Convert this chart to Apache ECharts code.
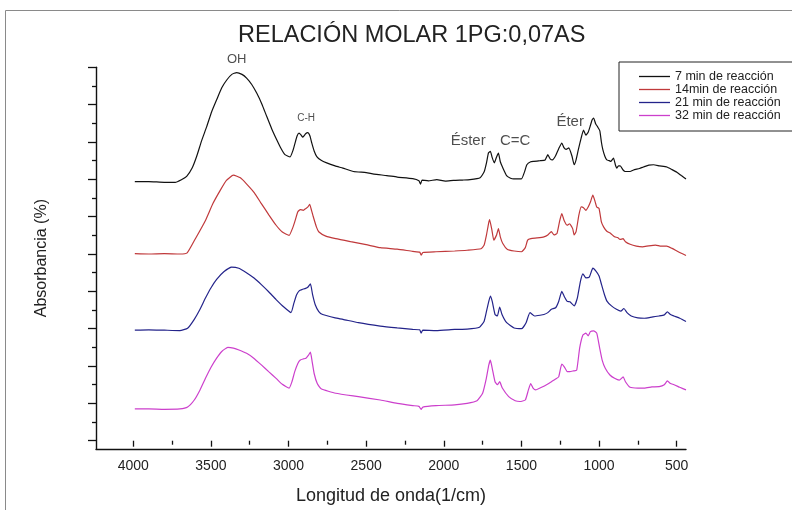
<!DOCTYPE html>
<html>
<head>
<meta charset="utf-8">
<script src="https://cdn.jsdelivr.net/npm/echarts@6/dist/echarts.min.js"></script>
<style>
  html, body { margin: 0; padding: 0; background: #fff; }
  #chart { width: 792px; height: 510px; }
</style>
</head>
<body>
<div id="chart"></div>
<script>
// FTIR spectra, [wavenumber (1/cm), absorbance (% of plot scale)]
const seriesNames = ['7 min de reacción', '14min de reacción', '21 min de reacción', '32 min de reacción'];
const seriesColors = ['#111111', '#c0393b', '#23238a', '#cc3fcc'];

const spec7 = [
  [3990,69.4],[3900,69.4],[3800,69.2],[3730,69.2],[3690,69.9],[3656,70.8],[3620,73.1],[3592,76.1],[3560,80.3],
  [3527,84.1],[3495,88.1],[3463,91.3],[3430,94.5],[3398,96.6],[3365,98.1],[3334,98.6],[3300,98.1],[3270,97.1],
  [3237,95.4],[3205,93.1],[3172,90.2],[3140,86.8],[3108,83.5],[3076,80.6],[3050,78.4],[3023,76.6],[2990,76.0],
  [2970,77.9],[2958,79.7],[2945,81.6],[2932,82.4],[2920,81.9],[2908,81.3],[2890,82.2],[2876,82.5],[2862,81.6],
  [2850,79.7],[2835,77.6],[2818,76.1],[2790,75.1],[2754,74.4],[2700,73.6],[2650,73.0],[2582,72.1],[2500,71.8],
  [2450,71.4],[2367,71.0],[2300,70.6],[2200,70.2],[2160,69.6],[2150,68.7],[2140,69.8],[2100,69.6],[2045,69.9],
  [1990,69.5],[1938,69.7],[1880,69.8],[1831,69.9],[1766,70.4],[1740,72.0],[1725,74.4],[1712,77.1],[1700,77.5],
  [1688,75.8],[1675,74.4],[1660,76.0],[1648,77.0],[1636,74.7],[1620,73.1],[1594,70.9],[1570,70.3],[1551,70.1],
  [1500,70.1],[1480,72.0],[1465,73.9],[1440,74.7],[1420,74.8],[1380,75.0],[1347,75.2],[1330,76.6],[1315,75.5],
  [1300,75.2],[1280,76.3],[1260,78.2],[1240,79.7],[1225,78.4],[1212,78.0],[1195,78.4],[1175,76.3],[1160,73.9],
  [1148,75.2],[1133,78.0],[1115,81.1],[1100,83.2],[1085,81.8],[1070,82.6],[1058,84.1],[1045,85.9],[1035,86.4],
  [1022,84.9],[1010,84.1],[995,83.0],[985,80.0],[976,78.0],[962,76.1],[950,75.2],[935,75.0],[924,74.8],
  [907,75.7],[895,73.9],[886,73.0],[875,73.6],[864,73.6],[845,72.5],[832,72.1],[800,72.1],[778,72.5],
  [740,72.9],[714,73.3],[680,73.8],[649,73.9],[610,73.6],[563,73.3],[530,72.6],[499,71.9],[470,71.0],[440,70.1]
];

const spec14 = [
  [3990,50.1],[3900,50.0],[3800,50.1],[3700,50.0],[3653,50.3],[3600,54.1],[3535,59.0],[3487,63.5],[3439,67.1],
  [3400,69.7],[3355,71.1],[3310,70.4],[3271,68.8],[3220,66.4],[3175,63.5],[3127,60.5],[3080,57.7],[3040,55.9],
  [2996,55.0],[2975,56.8],[2960,58.6],[2940,61.3],[2924,61.9],[2905,61.7],[2888,62.2],[2875,62.6],[2864,63.3],
  [2852,61.7],[2840,59.9],[2820,57.2],[2804,55.9],[2760,54.8],[2696,54.1],[2600,53.3],[2500,52.5],[2409,51.7],
  [2300,51.3],[2200,50.7],[2155,50.5],[2146,49.7],[2135,50.4],[2050,50.6],[1930,50.8],[1850,51.0],[1760,51.4],
  [1740,52.4],[1725,55.1],[1712,58.1],[1705,59.2],[1690,56.4],[1678,53.7],[1660,55.1],[1648,56.8],[1636,54.6],
  [1620,52.8],[1590,51.2],[1547,50.8],[1500,50.6],[1475,51.7],[1460,53.7],[1439,54.1],[1400,54.3],[1355,54.6],
  [1330,55.1],[1307,56.0],[1290,55.1],[1271,55.5],[1255,58.6],[1240,60.8],[1225,59.0],[1205,57.7],[1190,58.1],
  [1170,56.8],[1160,55.1],[1148,56.0],[1130,60.4],[1115,62.6],[1100,62.4],[1085,61.7],[1070,62.6],[1055,64.0],
  [1040,65.8],[1028,64.4],[1015,62.6],[1000,62.2],[985,58.6],[970,57.2],[950,56.1],[925,55.5],[900,54.6],
  [880,54.4],[865,53.9],[845,54.1],[830,53.3],[800,52.6],[760,52.1],[720,51.9],[680,52.2],[636,52.4],
  [600,52.1],[564,52.1],[530,51.5],[490,50.6],[440,49.6]
];

const spec21 = [
  [3990,29.6],[3900,29.7],[3800,29.6],[3700,29.5],[3650,30.1],[3607,32.5],[3570,35.2],[3535,38.2],[3500,40.9],
  [3463,43.2],[3415,45.3],[3367,46.5],[3320,46.2],[3271,45.0],[3220,43.5],[3175,41.8],[3128,39.9],[3080,37.8],
  [3030,35.8],[2984,34.3],[2965,36.9],[2948,39.1],[2930,40.2],[2912,40.5],[2890,40.8],[2876,41.1],[2859,42.0],
  [2845,39.1],[2828,36.4],[2805,34.6],[2780,33.8],[2700,32.9],[2649,32.5],[2550,31.6],[2409,30.7],[2300,30.2],
  [2200,29.8],[2155,29.7],[2146,28.8],[2135,29.6],[2050,29.5],[1930,29.8],[1850,29.9],[1770,30.4],[1740,32.0],
  [1720,35.6],[1700,38.7],[1688,37.3],[1670,33.8],[1655,33.4],[1640,35.8],[1625,33.8],[1595,31.6],[1547,30.2],
  [1499,30.0],[1470,31.6],[1445,34.3],[1415,33.4],[1380,33.6],[1355,33.8],[1330,34.3],[1307,35.2],[1280,35.6],
  [1260,37.3],[1240,40.0],[1225,38.7],[1205,37.3],[1188,37.2],[1160,36.1],[1140,38.2],[1120,42.7],[1104,44.7],
  [1085,43.6],[1063,43.8],[1040,46.2],[1020,45.4],[1000,44.1],[984,41.8],[965,39.1],[948,37.3],[920,36.1],
  [888,35.2],[860,34.7],[840,35.4],[820,34.3],[793,33.4],[750,32.9],[708,32.8],[660,33.1],[613,33.4],
  [580,33.7],[560,34.5],[540,33.8],[517,33.4],[480,32.8],[440,31.9]
];

const spec32 = [
  [3990,8.5],[3900,8.5],[3800,8.4],[3700,8.5],[3650,9.0],[3607,10.9],[3570,13.6],[3535,16.7],[3500,19.6],
  [3463,22.1],[3430,23.9],[3391,25.0],[3355,24.8],[3319,24.3],[3270,23.4],[3224,22.1],[3175,20.3],[3128,18.5],
  [3080,16.7],[3040,15.1],[2996,14.1],[2978,15.8],[2960,18.5],[2940,20.7],[2924,21.6],[2905,21.9],[2888,22.1],
  [2870,23.0],[2859,23.7],[2848,21.2],[2835,18.0],[2815,15.3],[2790,13.9],[2696,12.7],[2550,11.8],[2409,10.9],
  [2300,10.0],[2200,9.4],[2160,9.2],[2146,8.4],[2135,9.0],[2050,9.4],[1930,9.6],[1850,10.0],[1786,10.7],
  [1750,12.7],[1726,16.7],[1710,20.3],[1700,21.6],[1688,19.4],[1670,15.8],[1655,15.0],[1640,15.8],[1623,14.1],
  [1582,11.8],[1540,10.7],[1510,10.5],[1475,10.9],[1455,13.6],[1440,15.3],[1425,14.1],[1408,13.6],[1370,14.3],
  [1330,15.2],[1307,15.8],[1280,16.5],[1260,17.1],[1240,20.5],[1224,19.8],[1205,18.5],[1188,18.5],[1165,18.7],
  [1144,18.9],[1125,24.8],[1104,28.3],[1085,28.8],[1070,28.1],[1056,29.2],[1035,29.4],[1015,28.8],[996,24.8],
  [980,21.6],[960,19.4],[930,17.6],[900,16.7],[870,16.2],[845,17.1],[830,15.8],[800,14.3],[750,14.1],
  [708,14.1],[660,14.4],[613,14.5],[580,15.0],[560,16.0],[540,15.3],[517,15.0],[480,14.3],[440,13.6]
];

const xMajorTicks = [500, 1000, 1500, 2000, 2500, 3000, 3500, 4000];
const xMinorTicks = [750, 1250, 1750, 2250, 2750, 3250, 3750];
const yMajorTicks = [0, 10, 20, 30, 40, 50, 60, 70, 80, 90, 100];
const yMinorTicks = [5, 15, 25, 35, 45, 55, 65, 75, 85, 95];

// band assignments written above the peaks: [text, wavenumber, absorbance, font size]
const bandLabels = [
  ['OH', 3334, 102.2, 13],
  ['C-H', 2887, 86.4, 10],
  ['Éster', 1843, 80.3, 15],
  ['C=C', 1540, 80.3, 15],
  ['Éter', 1186, 85.4, 15]
];

const FONT = '"Liberation Sans", Arial, sans-serif';
const spectra = [spec7, spec14, spec21, spec32];

const chart = echarts.init(document.getElementById('chart'));

const tickLine = { color: '#111', width: 1.3 };
const xRange = { min: 440, max: 4240 };
const yRange = { min: -2.22, max: 100 };

// a value axis used only to carry one set of tick marks
function tickAxis(range, extra, values, len) {
  return Object.assign({
    type: 'value', ...range, offset: 0,
    axisLine: { show: false },
    axisTick: { show: true, length: len, customValues: values, lineStyle: tickLine },
    axisLabel: { show: false },
    splitLine: { show: false }
  }, extra);
}

const option = {
  backgroundColor: '#fff',
  animation: false,
  title: {
    text: 'RELACIÓN MOLAR 1PG:0,07AS',
    left: 233,
    top: 19,
    textStyle: { fontFamily: FONT, fontSize: 23.5, fontWeight: 'normal', color: '#222' }
  },
  legend: {
    orient: 'vertical',
    left: 619,
    top: 62,
    padding: [8, 16, 9, 20],
    borderColor: '#222',
    borderWidth: 1,
    itemWidth: 31,
    itemHeight: 1.3,
    itemGap: 0,
    icon: 'rect',
    data: seriesNames,
    textStyle: { fontFamily: FONT, fontSize: 12.5, color: '#222', lineHeight: 12.7 }
  },
  grid: { left: 96, right: 106, top: 67.3, bottom: 60, containLabel: false },
  xAxis: [
    {
      type: 'value', inverse: true, ...xRange,
      name: 'Longitud de onda(1/cm)',
      nameLocation: 'middle', nameGap: 38,
      nameTextStyle: { fontFamily: FONT, fontSize: 18, color: '#222' },
      axisLine: { show: true, onZero: false, lineStyle: { color: '#111', width: 1.4 } },
      axisTick: { show: false },
      axisLabel: {
        show: true, customValues: xMajorTicks, margin: 10,
        formatter: v => String(v),
        fontFamily: FONT, fontSize: 14, color: '#222'
      },
      splitLine: { show: false }
    },
    tickAxis(xRange, { inverse: true, position: 'bottom' }, xMajorTicks, 6),
    tickAxis(xRange, { inverse: true, position: 'bottom' }, xMinorTicks, 4)
  ],
  yAxis: [
    {
      type: 'value', ...yRange,
      name: 'Absorbancia (%)',
      nameLocation: 'middle', nameGap: 46, nameRotate: 90,
      nameTextStyle: { fontFamily: FONT, fontSize: 16, color: '#222' },
      axisLine: { show: true, onZero: false, lineStyle: { color: '#111', width: 1.4 } },
      axisTick: { show: false },
      axisLabel: { show: false },
      splitLine: { show: false }
    },
    tickAxis(yRange, { position: 'left' }, yMajorTicks, 8),
    tickAxis(yRange, { position: 'left' }, yMinorTicks, 4)
  ],
  series: spectra.map((d, i) => ({
    name: seriesNames[i],
    type: 'line',
    data: d,
    xAxisIndex: 0,
    yAxisIndex: 0,
    showSymbol: false,
    symbol: 'none',
    smooth: 0.15,
    color: seriesColors[i],
    lineStyle: { width: 1.2, color: seriesColors[i] }
  })).concat([{
    type: 'scatter',
    data: bandLabels.map(b => ({ value: [b[1], b[2]], label: { fontSize: b[3] }, name: b[0] })),
    symbolSize: 0,
    silent: true,
    clip: false,
    label: {
      show: true,
      position: 'inside',
      formatter: p => p.name,
      fontFamily: FONT,
      color: '#222'
    }
  }]),
  graphic: [
    {
      type: 'rect',
      shape: { x: 5.5, y: 10.5, width: 800, height: 520 },
      style: { fill: 'none', stroke: '#8a8a8a', lineWidth: 1 },
      silent: true
    }
  ]
};

chart.setOption(option);
</script>
</body>
</html>
